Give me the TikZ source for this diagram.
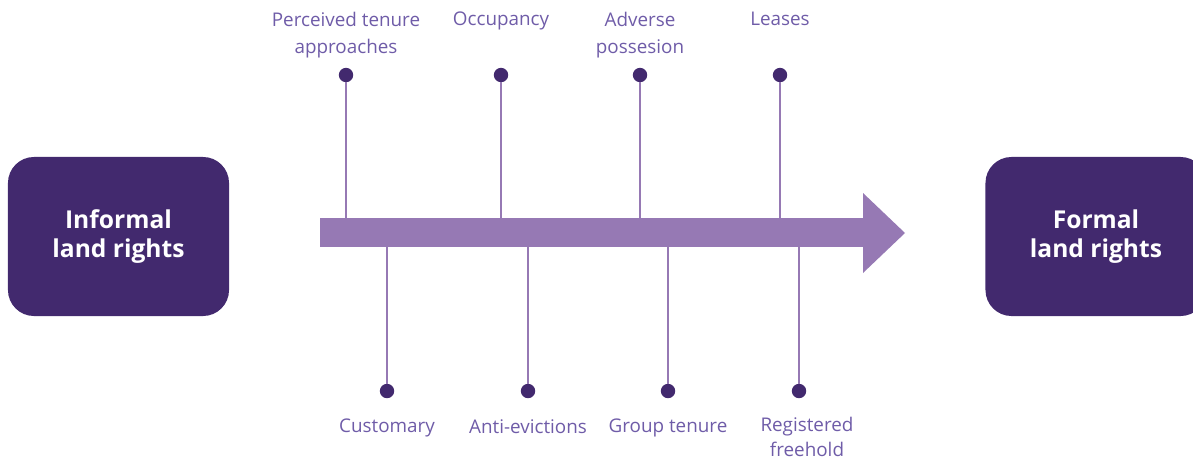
\documentclass[tikz,border=0pt]{standalone}
\usepackage{fontspec}
\setmainfont{Open Sans}
\usetikzlibrary{positioning}
\definecolor{deep purple}{HTML}{42296E}
\definecolor{soft purple}{HTML}{9679B4}
\definecolor{label purple}{HTML}{6F5CA8}

\tikzset{
	landbox/.style = {fill = deep purple, rounded corners = 0.65cm, text = white,
		font = \fontsize{17.5}{20.5}\selectfont\bfseries, align = center,
		minimum width = 5.525cm, minimum height = 3.975cm},
	pin/.style = {circle, fill = deep purple, inner sep = 0pt, minimum size = 0.36cm},
	stem/.style = {draw = soft purple, line width = 1.4pt},
	tag/.style = {text = label purple, font = \fontsize{13.4}{19}\selectfont, align = center,
		inner sep = 0pt, anchor = north}
}

\begin{document}
\begin{tikzpicture}[x = 0.025cm, y = -0.025cm]
		\useasboundingbox (0, 0) rectangle (1193, 461);
		% the two ends
		\node[landbox] (informal) at (118.5, 236.5) {Informal\\land rights};
		\node[landbox] (formal) at (1096, 236.5) {Formal\\land rights};
		% the arrow
		\node[fill = soft purple, inner sep = 0pt, minimum width = 13.6cm,
			minimum height = 0.725cm] (shaft) at (592.5, 232.5) {};
		\fill[soft purple] (863, 193) -- (905, 233) -- (863, 273) -- cycle;
		% pins above
		\foreach \x/\name/\txt in {346/p1/{Perceived tenure\\approaches}, 501/p2/{Occupancy},
				640/p3/{Adverse\\possesion}, 780/p4/{Leases}} {
			\node[pin] (\name) at (\x, 75) {};
			\draw[stem] (\name) -- (\name |- shaft.north);
			\node[tag] (\name t) at (\x, 12) {\txt};
		}
		% pins below
		\foreach \x/\name in {387/q1, 528/q2, 668/q3, 799/q4} {
			\node[pin] (\name) at (\x, 391) {};
			\draw[stem] (\name) -- (\name |- shaft.south);
		}
		\node[tag] (q1t) at (387, 419) {Customary};
		\node[tag] (q2t) at (528, 419) {Anti-evictions};
		\node[tag] (q3t) at (668, 419) {Group tenure};
		\node[tag, font = \fontsize{13.4}{18}\selectfont] (q4t) at (807, 417) {Registered\\freehold};
	\end{tikzpicture}
\end{document}
